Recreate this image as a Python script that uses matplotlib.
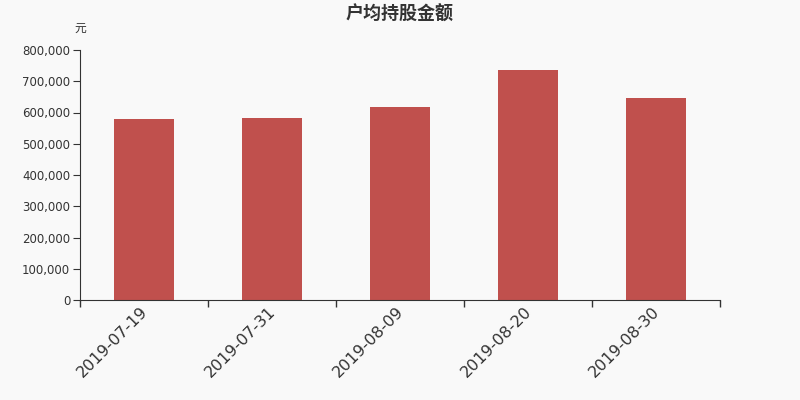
import matplotlib
matplotlib.use("Agg")
import matplotlib.pyplot as plt
import matplotlib.transforms as mtransforms
from matplotlib.ticker import FuncFormatter, FixedLocator

plt.rcParams['font.family'] = ['Noto Sans CJK SC', 'DejaVu Sans']

categories = ["2019-07-19", "2019-07-31", "2019-08-09", "2019-08-20", "2019-08-30"]
values = [580000, 582000, 618000, 736000, 646000]
title = "户均持股金额"
unit = "元"

bg = "#f9f9f9"
fig = plt.figure(figsize=(8, 4), dpi=100, facecolor=bg)
ax = fig.add_axes([0.1, 0.25, 0.8, 0.625], facecolor=bg)

x = list(range(len(categories)))
ax.bar(x, values, width=0.47, color="#c0504d", zorder=2)
ax.set_xlim(-0.5, len(categories) - 0.5)
ax.set_ylim(0, 800000)
ax.set_yticks(range(0, 800001, 100000))
ax.yaxis.set_major_formatter(FuncFormatter(lambda v, p: f"{int(v):,}"))

ax.set_xticks(x)
ax.set_xticklabels(categories, rotation=45, ha='right', va='top',
                   rotation_mode='anchor', fontsize=11.5, color="#333333",
                   family=['DejaVu Sans'])
ax.tick_params(axis='x', length=0, pad=3)
offset = mtransforms.ScaledTranslation(-4 / 100, 0, fig.dpi_scale_trans)
for lab in ax.get_xticklabels():
    lab.set_transform(lab.get_transform() + offset)
ax.xaxis.set_minor_locator(FixedLocator([i - 0.5 for i in range(len(categories) + 1)]))
ax.tick_params(axis='x', which='minor', length=5, color="#333333", width=1)
ax.tick_params(axis='y', length=5, color="#333333", labelcolor="#333333", labelsize=8.5, pad=2)
for lab in ax.get_yticklabels():
    lab.set_family(['DejaVu Sans'])

for s in ['top', 'right']:
    ax.spines[s].set_visible(False)
for s in ['left', 'bottom']:
    ax.spines[s].set_color("#333333")

fig.text(0.5, 0.965, title, ha='center', va='center', fontsize=13,
         fontweight='bold', color="#333333")
fig.text(0.1, 0.93, unit, ha='center', va='center', fontsize=8.5, color="#333333")

fig.savefig("out.png", dpi=100, facecolor=bg)
